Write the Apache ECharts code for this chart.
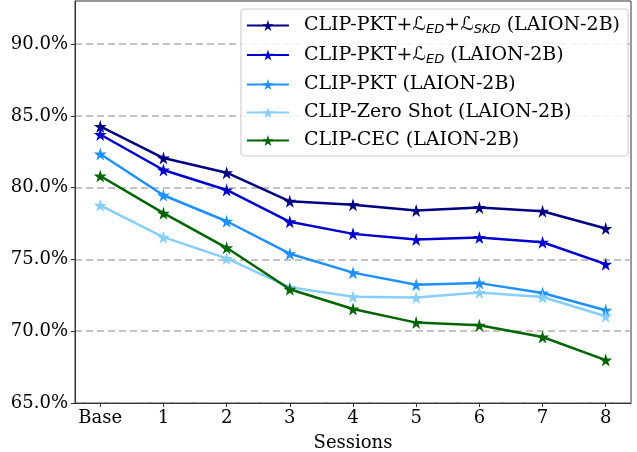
<!DOCTYPE html>
<html>
<head>
<meta charset="utf-8">
<script src="https://cdn.jsdelivr.net/npm/echarts@6/dist/echarts.min.js"></script>
<style>
  html, body { margin: 0; padding: 0; background: #fff; }
  #chart { width: 637px; height: 452px; }
</style>
</head>
<body>
<div id="chart"></div>
<script>
// sessions on the x axis
const sessions = ['Base', '1', '2', '3', '4', '5', '6', '7', '8'];
const yTicks = [65, 70, 75, 80, 85, 90];

// accuracy per session (%)
const pktEdSkd = [84.26, 82.06, 81.04, 79.05, 78.81, 78.40, 78.61, 78.36, 77.15];
const pktEd = [83.70, 81.23, 79.84, 77.62, 76.78, 76.39, 76.53, 76.20, 74.67];
const pkt = [82.34, 79.47, 77.66, 75.40, 74.08, 73.24, 73.35, 72.66, 71.46];
const zeroShot = [78.77, 76.55, 75.07, 73.06, 72.40, 72.34, 72.69, 72.38, 71.04];
const cec = [80.81, 78.22, 75.81, 72.92, 71.55, 70.60, 70.42, 69.60, 67.99];

const names = [
    'CLIP-PKT+{cal|ℒ}{sub|ED}+{cal|ℒ}{sub|SKD} (LAION-2B)',
    'CLIP-PKT+{cal|ℒ}{sub|ED} (LAION-2B)',
    'CLIP-PKT (LAION-2B)',
    'CLIP-Zero Shot (LAION-2B)',
    'CLIP-CEC (LAION-2B)'
];
const colors = ['#000080', '#0000cd', '#1e90ff', '#87cefa', '#006400'];
const values = [pktEdSkd, pktEd, pkt, zeroShot, cec];

const star = 'path://M50,0 L61,35 L98,35 L68,57 L79,91 L50,70 L21,91 L32,57 L2,35 L39,35 Z';
const font = 'DejaVu Serif';

const chart = echarts.init(document.getElementById('chart'));

const series = values.map((vals, k) => ({
    name: names[k],
    type: 'line',
    data: vals.map((v, i) => [i, v]),
    symbol: star,
    symbolSize: 13,
    showAllSymbol: true,
    color: colors[k],
    lineStyle: { width: 2.5, color: colors[k] },
    itemStyle: { color: colors[k] },
    z: 2 + k
}));

chart.setOption({
    animation: false,
    textStyle: { fontFamily: font },
    grid: {
        left: 75, right: 6, top: 1, bottom: 49,
        outerBoundsMode: 'none',
        show: true, borderColor: '#333', borderWidth: 1
    },
    legend: {
        orient: 'vertical',
        right: 9, top: 9,
        backgroundColor: 'rgba(255,255,255,0.85)',
        borderColor: '#ccc', borderWidth: 1, borderRadius: 3,
        padding: [7, 8, 6, 5],
        itemWidth: 42, itemHeight: 14, itemGap: 9,
        data: names,
        textStyle: {
            fontFamily: font, fontSize: 19, color: '#000',
            padding: [0, 0, 0, 10],
            rich: {
                cal: { fontFamily: 'DejaVu Sans', fontStyle: 'italic', fontSize: 19, color: '#000' },
                sub: { fontFamily: 'DejaVu Sans', fontStyle: 'italic', fontSize: 13, color: '#000',
                       verticalAlign: 'bottom', padding: [9, 0, 0, 0] }
            }
        }
    },
    xAxis: {
        type: 'value',
        min: -0.4, max: 8.4,
        name: 'Sessions',
        nameLocation: 'middle',
        nameGap: 31,
        nameTextStyle: { fontFamily: font, fontSize: 18, color: '#000' },
        axisLine: { show: true, onZero: false, lineStyle: { color: '#333' } },
        axisTick: { show: true, length: 4, customValues: sessions.map((s, i) => i), lineStyle: { color: '#333' } },
        axisLabel: {
            customValues: sessions.map((s, i) => i),
            formatter: v => sessions[Math.round(v)],
            fontFamily: font, fontSize: 18, color: '#000', margin: 6
        },
        splitLine: { show: false }
    },
    yAxis: {
        type: 'value',
        min: 65, max: 93, interval: 5,
        axisLine: { show: true, onZero: false, lineStyle: { color: '#333' } },
        axisTick: { show: true, length: 4, customValues: yTicks, lineStyle: { color: '#333' } },
        axisLabel: {
            customValues: yTicks,
            formatter: v => v.toFixed(1) + '%',
            fontFamily: font, fontSize: 18, color: '#000', margin: 7
        },
        splitLine: {
            show: true, showMinLine: true, showMaxLine: true,
            lineStyle: { color: '#b0b0b0', width: 1.5, type: [7, 4] }
        }
    },
    series: series
});
</script>
</body>
</html>
